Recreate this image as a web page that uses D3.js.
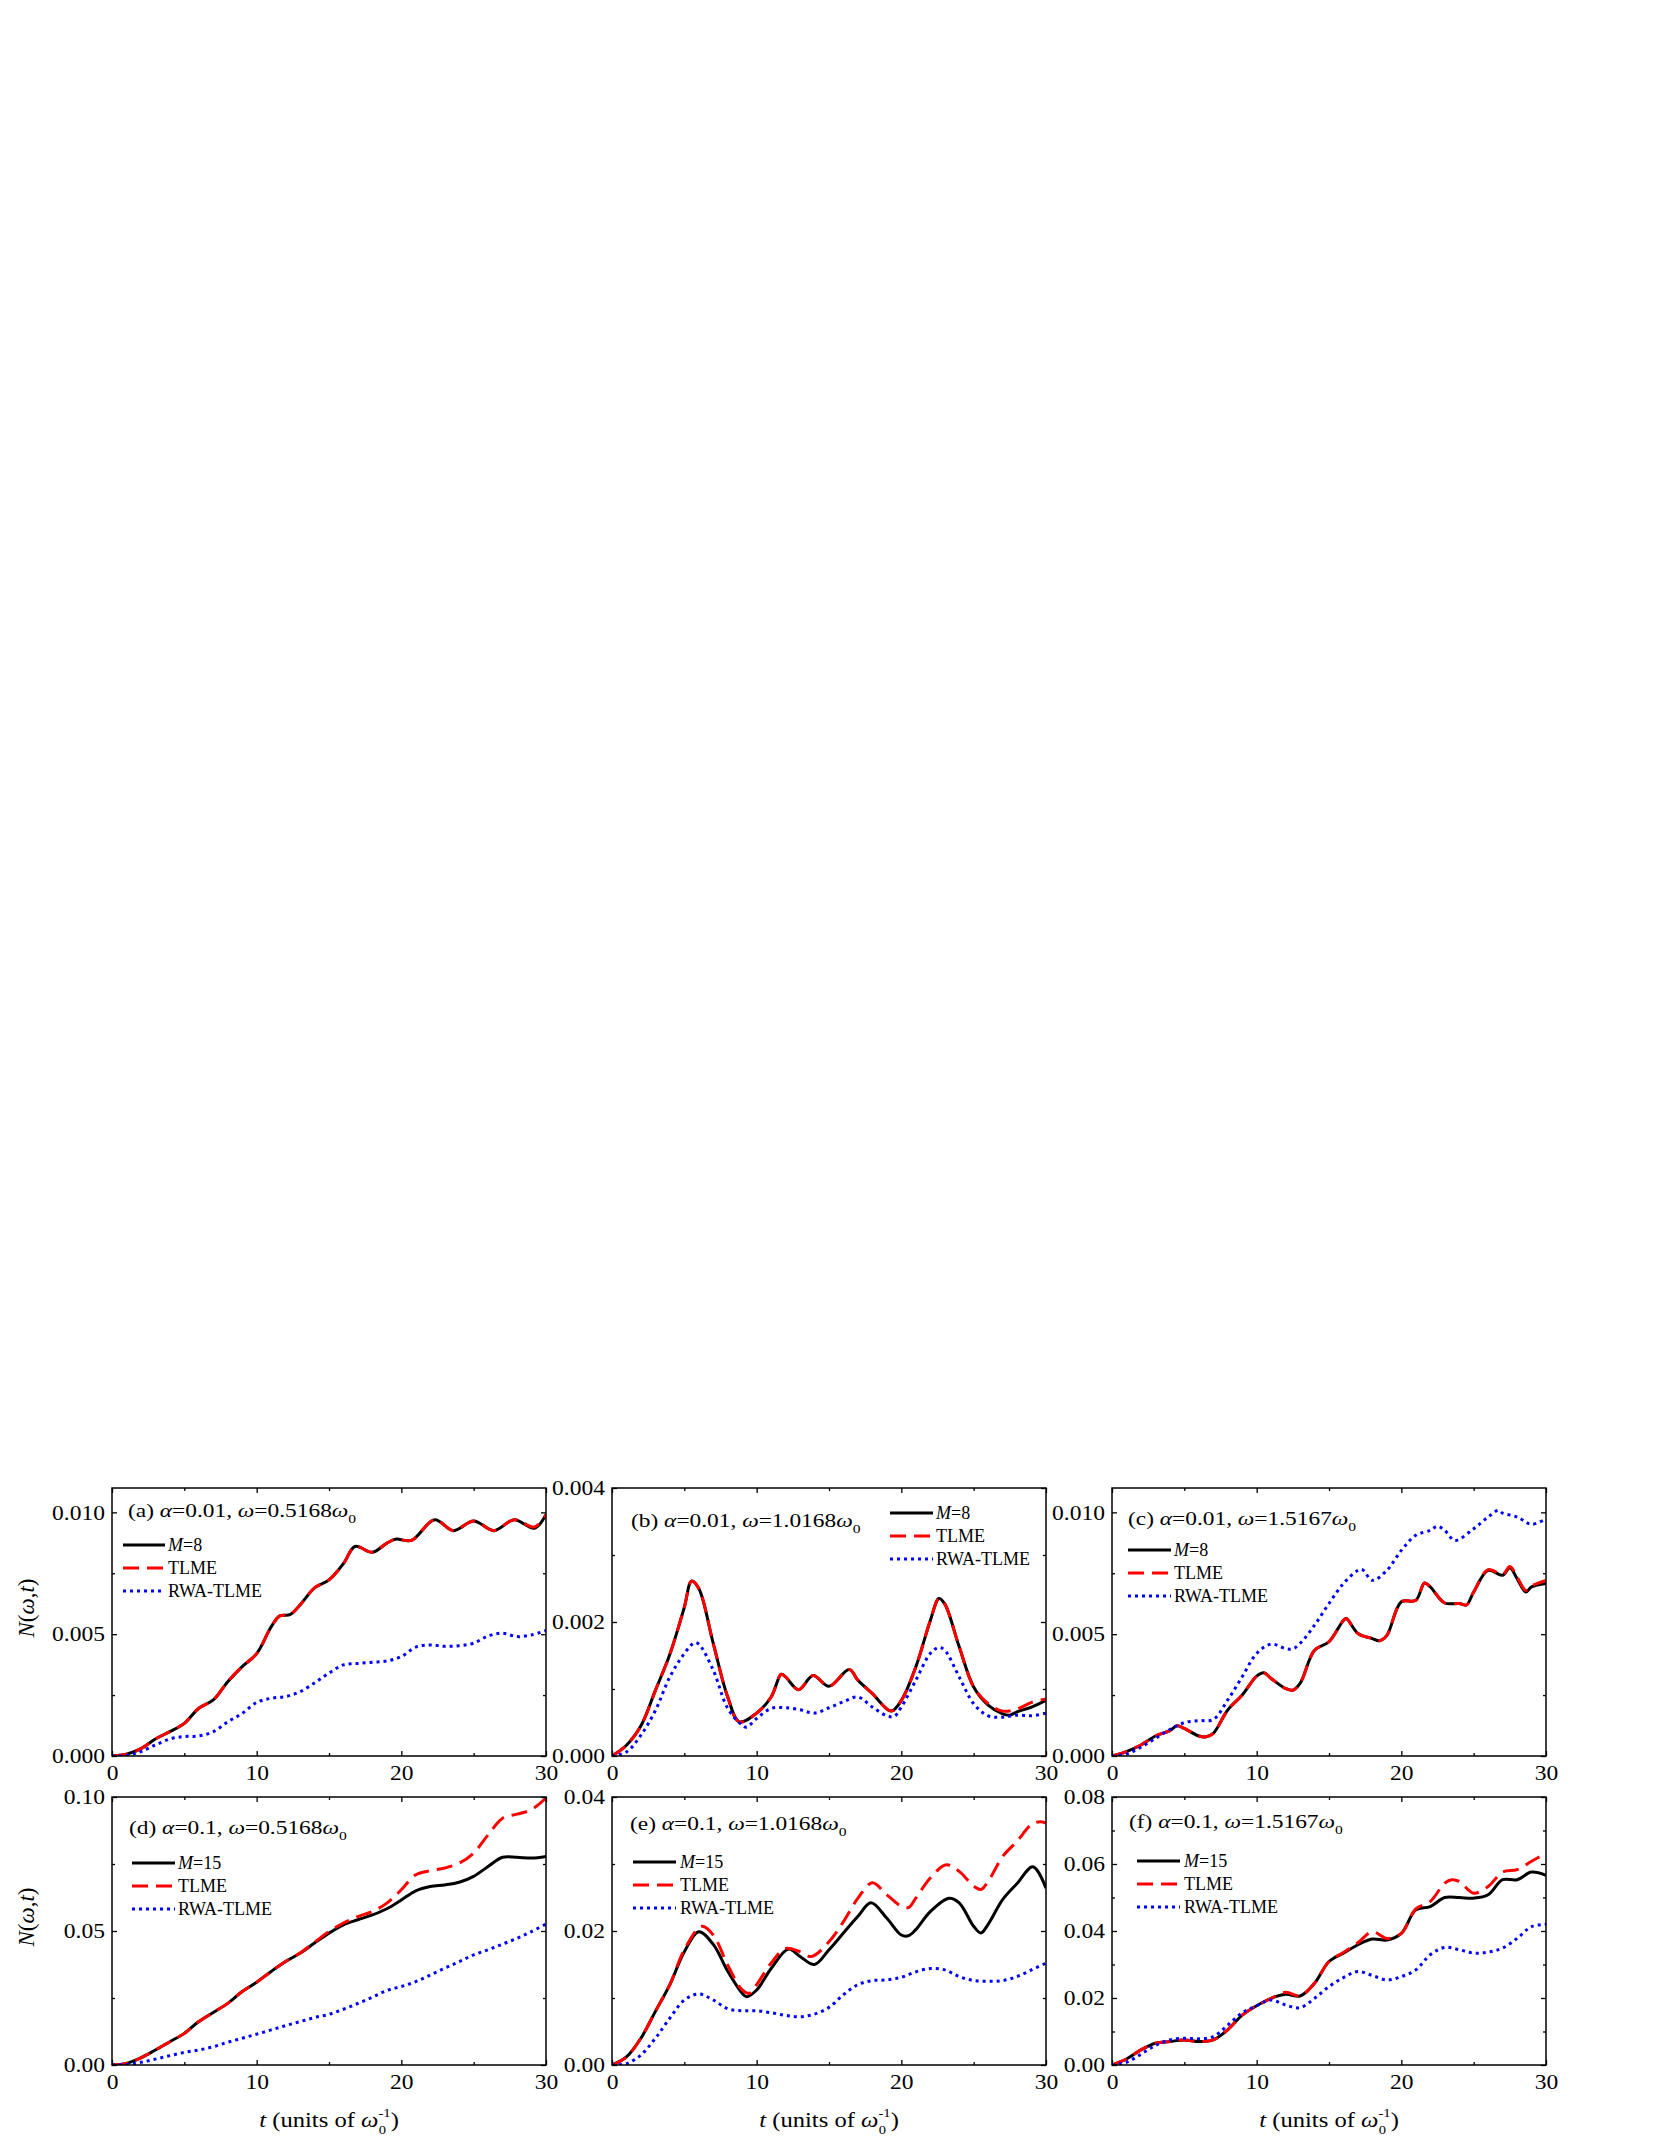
<!DOCTYPE html>
<html><head><meta charset="utf-8">
<script src="https://cdn.jsdelivr.net/npm/d3@7"></script>
<style>
body{margin:0;background:#fff}
svg{display:block}
text{font-family:"Liberation Serif","Times New Roman",serif;fill:#000}
</style>
</head><body>
<svg id="chart" width="1661" height="2149"></svg>
<script>
// ---------------- DATA ----------------
const tMajor = [0, 10, 20, 30];
const tMinor = [5, 15, 25];
const tDomain = [0, 30];

const yTicksA = [0, 0.005, 0.010], yMinorA = [0.0025, 0.0075];
const yTicksB = [0, 0.002, 0.004], yMinorB = [0.001, 0.003];
const yTicksC = [0, 0.005, 0.010], yMinorC = [0.0025, 0.0075];
const yTicksD = [0, 0.05, 0.10], yMinorD = [0.025, 0.075];
const yTicksE = [0, 0.02, 0.04], yMinorE = [0.01, 0.03];
const yTicksF = [0, 0.02, 0.04, 0.06, 0.08], yMinorF = [0.01, 0.03, 0.05, 0.07];
const yMaxes = [0.011, 0.004, 0.011, 0.10, 0.04, 0.08];

const panelLetters = ["(a)", "(b)", "(c)", "(d)", "(e)", "(f)"];
const alphas = ["0.01", "0.01", "0.01", "0.1", "0.1", "0.1"];
const omegas = ["0.5168", "1.0168", "1.5167", "0.5168", "1.0168", "1.5167"];
const legendM = ["8", "8", "8", "15", "15", "15"];
const seriesNames = ["M", "TLME", "RWA-TLME"];

// (a) alpha=0.01, omega=0.5168
const a_M = [[0,0],[1,0.00007],[2,0.0003],[3,0.0007],[4,0.001],[5,0.00134],[6,0.00196],[7,0.0023],[8,0.00305],[9,0.00367],[10,0.0042],[11,0.0053],[11.6,0.00575],[12.3,0.0058],[13,0.0062],[14,0.0069],[15,0.00723],[16,0.0079],[16.8,0.0086],[18,0.00836],[19,0.00874],[19.6,0.0089],[20.7,0.00885],[22.3,0.0097],[23.6,0.00925],[25,0.00965],[26.4,0.00925],[27.8,0.0097],[29.2,0.00935],[30,0.0099]];
const a_TLME = [[0,0],[1,0.00007],[2,0.0003],[3,0.0007],[4,0.001],[5,0.00134],[6,0.00196],[7,0.0023],[8,0.00305],[9,0.00367],[10,0.0042],[11,0.0053],[11.6,0.00575],[12.3,0.0058],[13,0.0062],[14,0.0069],[15,0.00723],[16,0.0079],[16.8,0.0086],[18,0.00836],[19,0.00874],[19.6,0.0089],[20.7,0.00885],[22.3,0.0097],[23.6,0.00925],[25,0.00965],[26.4,0.00925],[27.8,0.0097],[29.2,0.0094],[30,0.0099]];
const a_RWA = [[0,0],[1,0.00002],[2,0.00018],[3,0.00045],[4,0.0007],[5,0.0008],[6,0.00082],[7,0.001],[8,0.0014],[9,0.00175],[10,0.0022],[11,0.00237],[12,0.00244],[13,0.00264],[14,0.003],[15,0.0034],[16,0.00374],[17,0.0038],[18,0.00385],[19,0.0039],[20,0.00408],[21,0.00447],[22,0.00456],[23,0.0045],[24,0.00453],[25,0.00463],[26,0.00493],[27,0.00504],[28,0.0049],[29,0.00497],[30,0.00515]];

// (b) alpha=0.01, omega=1.0168
const b_M = [[0,0],[1,0.00016],[2,0.00045],[3,0.00098],[4,0.00152],[5,0.00222],[5.5,0.00261],[6,0.0025],[7,0.00168],[8,0.00088],[8.8,0.00051],[10,0.00064],[11,0.00088],[11.7,0.00122],[12,0.00118],[12.9,0.00099],[13.9,0.0012],[15,0.00104],[16.4,0.00129],[17,0.00113],[18,0.00093],[19.3,0.00067],[20,0.00083],[21,0.00133],[22,0.00202],[22.6,0.00235],[23,0.00227],[24,0.00163],[25,0.00103],[26,0.00076],[27,0.00063],[27.5,0.00061],[28,0.00066],[29,0.00073],[30,0.00083]];
const b_TLME = [[0,0],[1,0.00016],[2,0.00045],[3,0.00098],[4,0.00152],[5,0.00222],[5.5,0.00261],[6,0.0025],[7,0.00168],[8,0.00088],[8.8,0.00051],[10,0.00064],[11,0.00088],[11.7,0.00122],[12,0.00118],[12.9,0.00099],[13.9,0.0012],[15,0.00104],[16.4,0.00129],[17,0.00113],[18,0.00093],[19.3,0.00067],[20,0.00083],[21,0.00133],[22,0.00202],[22.6,0.00235],[23,0.00227],[24,0.00163],[25,0.00103],[26,0.00078],[27,0.00067],[28,0.0007],[29,0.0008],[30,0.00085]];
const b_RWA = [[0,0],[1,0.00006],[2,0.00031],[3,0.00068],[4,0.00118],[5,0.00153],[5.7,0.00169],[6,0.00167],[7,0.00128],[8,0.00071],[9,0.00046],[9.3,0.00043],[10,0.00056],[11,0.00071],[12,0.00072],[13,0.00069],[14,0.00064],[15,0.00072],[16,0.00081],[17,0.00088],[18,0.00073],[19,0.0006],[19.5,0.00059],[20,0.00073],[21,0.00113],[22,0.00153],[22.6,0.00162],[23,0.00158],[24,0.00118],[25,0.00078],[26,0.0006],[27,0.00058],[28,0.00061],[29,0.0006],[30,0.00064]];

// (c) alpha=0.01, omega=1.5167
const c_M = [[0,0],[1,0.00018],[2,0.00045],[3,0.00082],[4,0.00104],[4.5,0.00124],[5,0.00113],[6,0.00082],[6.5,0.00079],[7,0.00093],[8,0.00189],[9,0.0025],[10,0.00328],[10.5,0.00342],[11,0.00318],[12,0.00277],[12.5,0.0027],[13,0.00298],[14,0.00434],[15,0.00469],[16,0.00557],[16.2,0.00564],[17,0.00503],[18,0.00482],[18.5,0.00473],[19,0.00495],[20,0.00633],[21,0.00639],[21.6,0.0071],[22,0.00694],[23,0.00628],[24,0.00626],[24.5,0.0062],[25,0.00673],[26,0.00762],[27,0.00742],[27.5,0.00773],[28,0.00728],[28.6,0.00673],[29,0.00694],[30,0.00708]];
const c_TLME = [[0,0],[1,0.00018],[2,0.00045],[3,0.00082],[4,0.00104],[4.5,0.00124],[5,0.00113],[6,0.00082],[6.5,0.00079],[7,0.00093],[8,0.00189],[9,0.0025],[10,0.00328],[10.5,0.00342],[11,0.00318],[12,0.00277],[12.5,0.0027],[13,0.00298],[14,0.00434],[15,0.00469],[16,0.00557],[16.2,0.00564],[17,0.00503],[18,0.00482],[18.5,0.00473],[19,0.00495],[20,0.00633],[21,0.00639],[21.6,0.0071],[22,0.00694],[23,0.00628],[24,0.00626],[24.5,0.0062],[25,0.00673],[26,0.00765],[27,0.00745],[27.5,0.00778],[28,0.00735],[28.6,0.0068],[29,0.00698],[30,0.00721]];
const c_RWA = [[0,0],[1,0.00008],[2,0.00036],[3,0.00072],[4,0.00109],[5,0.00137],[6,0.00145],[7,0.0015],[8,0.0023],[9,0.00325],[10,0.00421],[11,0.00459],[12,0.00441],[12.5,0.0044],[13,0.00462],[14,0.00537],[15,0.00626],[16,0.00708],[17,0.00762],[17.3,0.00765],[18,0.00721],[19,0.00762],[20,0.00844],[21,0.00906],[22,0.00926],[22.5,0.00943],[23,0.00926],[23.7,0.00885],[25,0.00933],[26,0.00981],[26.7,0.01008],[27,0.00997],[28,0.00981],[29,0.00951],[30,0.00974]];

// (d) alpha=0.1, omega=0.5168
const d_M = [[0,0],[1,0.0006],[2,0.0027],[3,0.0056],[4,0.0087],[5,0.0118],[6,0.0162],[7,0.0196],[8,0.023],[9,0.0274],[10,0.0309],[11,0.0349],[12,0.0386],[13,0.0417],[14,0.0455],[15,0.0492],[16,0.0523],[17,0.0542],[18,0.056],[19,0.0583],[20,0.0616],[21,0.065],[22,0.0666],[23,0.0672],[24,0.0682],[25,0.0704],[26,0.0741],[27,0.0775],[28,0.0775],[29,0.0772],[30,0.0778]];
const d_TLME = [[0,0],[1,0.0006],[2,0.0027],[3,0.0056],[4,0.0087],[5,0.0118],[6,0.0162],[7,0.0196],[8,0.023],[9,0.0274],[10,0.0309],[11,0.0349],[12,0.0386],[13,0.0418],[14,0.0458],[15,0.0498],[16,0.053],[17,0.0554],[18,0.0573],[19,0.0604],[20,0.0654],[21,0.071],[22,0.0725],[23,0.0735],[24,0.0753],[25,0.0791],[26,0.0859],[27,0.0921],[28,0.0936],[29,0.0953],[30,0.0996]];
const d_RWA = [[0,0],[1,0.0002],[2,0.001],[3,0.0022],[4,0.0035],[5,0.0047],[6,0.0056],[7,0.0068],[8,0.0085],[9,0.01],[10,0.0115],[11,0.0131],[12,0.0147],[13,0.0162],[14,0.0177],[15,0.0189],[16,0.0208],[17,0.023],[18,0.0253],[19,0.0278],[20,0.0293],[21,0.0311],[22,0.0336],[23,0.0361],[24,0.0386],[25,0.0411],[26,0.043],[27,0.0451],[28,0.0473],[29,0.0498],[30,0.0526]];

// (e) alpha=0.1, omega=1.0168
const e_M = [[0,0],[1,0.0012],[2,0.004],[3,0.008],[4,0.012],[5,0.0169],[6,0.0199],[7,0.018],[8,0.014],[9,0.0107],[9.3,0.0102],[10,0.0112],[11,0.0144],[12.2,0.0173],[13,0.0162],[14,0.015],[15,0.0172],[16,0.0197],[17,0.0222],[17.9,0.0242],[19,0.0219],[20,0.0194],[20.5,0.0193],[21,0.0202],[22,0.0229],[23.3,0.0249],[24,0.0242],[25,0.0207],[25.5,0.0197],[26,0.021],[27,0.0247],[28,0.0271],[29.1,0.0296],[30,0.0264]];
const e_TLME = [[0,0],[1,0.0012],[2,0.004],[3,0.008],[4,0.012],[5,0.0172],[6.2,0.0207],[7,0.0194],[8,0.0149],[9,0.0112],[9.5,0.0107],[10,0.012],[11,0.0152],[12,0.0174],[13,0.0169],[13.8,0.0162],[15,0.0184],[16,0.0214],[17,0.0249],[18,0.0272],[19,0.0254],[20,0.0237],[20.5,0.0235],[21,0.0249],[22,0.0279],[23.1,0.0299],[24,0.0289],[25,0.0267],[25.5,0.0262],[26,0.0274],[27,0.0311],[28,0.0334],[29,0.0359],[29.6,0.0363],[30,0.0361]];
const e_RWA = [[0,0],[1,0.0002],[2,0.0015],[3,0.004],[4,0.007],[5,0.0097],[6,0.0106],[7,0.0097],[8,0.0084],[9,0.0081],[10,0.0081],[11,0.0078],[12,0.0074],[13,0.0072],[14,0.0076],[15,0.0086],[16,0.0105],[17,0.012],[18,0.0126],[19,0.0127],[20,0.0131],[21,0.0139],[22,0.0144],[23,0.0142],[24,0.0132],[25,0.0126],[26,0.0125],[27,0.0126],[28,0.0132],[29,0.0142],[30,0.0152]];

// (f) alpha=0.1, omega=1.5167
const f_M = [[0,0],[1,0.0018],[2,0.0045],[3,0.0065],[4,0.007],[5,0.0075],[6,0.007],[7,0.0075],[8,0.0105],[9,0.0149],[10,0.0177],[11,0.0199],[12,0.0211],[13,0.0206],[14,0.0244],[15,0.0309],[16,0.0334],[17,0.0359],[18,0.0376],[19,0.0373],[20,0.0393],[21,0.0463],[22,0.0473],[23,0.05],[24,0.05],[25,0.0498],[26,0.0508],[27,0.0553],[28,0.0553],[29,0.0576],[30,0.0566]];
const f_TLME = [[0,0],[1,0.0018],[2,0.0045],[3,0.0065],[4,0.007],[5,0.0075],[6,0.007],[7,0.0075],[8,0.0105],[9,0.0149],[10,0.0177],[11,0.0199],[12,0.0217],[13,0.0206],[14,0.0244],[15,0.0309],[16,0.0336],[17,0.0365],[18,0.0398],[19,0.0378],[20,0.0393],[21,0.0466],[22,0.0488],[23,0.0543],[23.5,0.0553],[24,0.0548],[25,0.0513],[26,0.0533],[27,0.0576],[28,0.0583],[29,0.0608],[30,0.0632]];
const f_RWA = [[0,0],[1,0.0008],[2,0.0032],[3,0.0058],[4,0.0075],[5,0.008],[6,0.0078],[7,0.0085],[8,0.0119],[9,0.0156],[10,0.0177],[11,0.0194],[12,0.0179],[13,0.0171],[14,0.0199],[15,0.0234],[16,0.0261],[17,0.0279],[18,0.0267],[19,0.0254],[20,0.0264],[21,0.0284],[22,0.0329],[23,0.0351],[24,0.0344],[25,0.0334],[26,0.0337],[27,0.0349],[28,0.0378],[29,0.0413],[30,0.042]];

// ---------------- LAYOUT ----------------
const colX = [112, 612, 1112], rowY = [1488, 1797];
const PW = 434, PH = 268;
const SX = 1.2;   // horizontal stretch of the original's lettering
const SXT = 1.12; // stretch for tick labels / axis title
const panels = [
  {yT: yTicksA, yM: yMinorA, fmt: ".3f", s: [a_M, a_TLME, a_RWA], ann: [16, 29], leg: [11, 53, 56, 57]},
  {yT: yTicksB, yM: yMinorB, fmt: ".3f", s: [b_M, b_TLME, b_RWA], ann: [19, 39], leg: [278, 321, 324, 25]},
  {yT: yTicksC, yM: yMinorC, fmt: ".3f", s: [c_M, c_TLME, c_RWA], ann: [16, 37], leg: [16, 59, 62, 62]},
  {yT: yTicksD, yM: yMinorD, fmt: ".2f", s: [d_M, d_TLME, d_RWA], ann: [17, 37], leg: [20, 63, 66, 66]},
  {yT: yTicksE, yM: yMinorE, fmt: ".2f", s: [e_M, e_TLME, e_RWA], ann: [18, 33], leg: [21, 64, 68, 65]},
  {yT: yTicksF, yM: yMinorF, fmt: ".2f", s: [f_M, f_TLME, f_RWA], ann: [17, 31], leg: [25, 68, 72, 64]}
];
const styles = [
  {stroke: "#000000", width: 3, dash: null},
  {stroke: "#ff0000", width: 3, dash: "16,8"},
  {stroke: "#0000ff", width: 3, dash: "3,4"}
];

const svg = d3.select("#chart");

function stretchText(sel, s) {
  sel.each(function () {
    const t = d3.select(this);
    const x = +t.attr("x") || 0, y = +t.attr("y") || 0;
    t.attr("x", 0).attr("y", 0).attr("transform", `translate(${x},${y}) scale(${s},1)`);
  });
}

panels.forEach((p, i) => {
  const col = i % 3, row = Math.floor(i / 3);
  const g = svg.append("g").attr("transform", `translate(${colX[col]},${rowY[row]})`);
  const x = d3.scaleLinear().domain(tDomain).range([0, PW]);
  const y = d3.scaleLinear().domain([0, yMaxes[i]]).range([PH, 0]);

  // curves
  const line = d3.line().x(d => x(d[0])).y(d => y(d[1])).curve(d3.curveCatmullRom.alpha(0.5));
  const clipId = "clip" + i;
  g.append("clipPath").attr("id", clipId).append("rect").attr("width", PW).attr("height", PH);
  const cg = g.append("g").attr("clip-path", `url(#${clipId})`);
  p.s.forEach((data, k) => {
    const st = styles[k];
    const path = cg.append("path").datum(data).attr("d", line)
      .attr("fill", "none").attr("stroke", st.stroke).attr("stroke-width", st.width)
      .attr("stroke-linejoin", "round");
    if (st.dash) path.attr("stroke-dasharray", st.dash);
  });

  // axes
  const tickStyle = sel => {
    sel.select(".domain").remove();
    sel.selectAll(".tick line").attr("stroke", "#000").attr("stroke-width", 1.3);
    sel.selectAll("text").attr("font-size", 21).attr("font-family", "Liberation Serif, Times New Roman, serif").attr("fill", "#000");
    stretchText(sel.selectAll("text"), SXT);
  };
  g.append("g").attr("transform", `translate(0,${PH})`)
    .call(d3.axisBottom(x).tickValues(tMajor).tickSize(-5).tickPadding(9).tickFormat(d3.format("d"))).call(tickStyle);
  g.append("g").attr("transform", `translate(0,${PH})`)
    .call(d3.axisBottom(x).tickValues(tMinor).tickSize(-3).tickFormat("")).call(tickStyle);
  g.append("g").call(d3.axisTop(x).tickValues(tMajor).tickSize(-5).tickFormat("")).call(tickStyle);
  g.append("g").call(d3.axisTop(x).tickValues(tMinor).tickSize(-3).tickFormat("")).call(tickStyle);
  g.append("g").call(d3.axisLeft(y).tickValues(p.yT).tickSize(-5).tickPadding(7).tickFormat(d3.format(p.fmt))).call(tickStyle);
  g.append("g").call(d3.axisLeft(y).tickValues(p.yM).tickSize(-3).tickFormat("")).call(tickStyle);
  g.append("g").attr("transform", `translate(${PW},0)`).call(d3.axisRight(y).tickValues(p.yT).tickSize(-5).tickFormat("")).call(tickStyle);
  g.append("g").attr("transform", `translate(${PW},0)`).call(d3.axisRight(y).tickValues(p.yM).tickSize(-3).tickFormat("")).call(tickStyle);

  g.append("rect").attr("width", PW).attr("height", PH).attr("fill", "none")
    .attr("stroke", "#000").attr("stroke-width", 1.5);

  // annotation
  const at = g.append("text").attr("transform", `translate(${p.ann[0]},${p.ann[1]}) scale(${SX},1)`).attr("font-size", 19.5);
  at.append("tspan").text(panelLetters[i] + " ");
  at.append("tspan").attr("font-style", "italic").text("\u03B1");
  at.append("tspan").text("=" + alphas[i] + ", ");
  at.append("tspan").attr("font-style", "italic").text("\u03C9");
  at.append("tspan").text("=" + omegas[i]);
  at.append("tspan").attr("font-style", "italic").text("\u03C9");
  at.append("tspan").attr("font-size", 13).attr("dy", 6).text("0");

  // legend
  const [lx1, lx2, tx, ly] = p.leg;
  seriesNames.forEach((nm, k) => {
    const yy = ly + k * 23;
    const st = styles[k];
    const ln = g.append("line").attr("x1", lx1).attr("x2", lx2).attr("y1", yy).attr("y2", yy)
      .attr("stroke", st.stroke).attr("stroke-width", st.width);
    if (st.dash) ln.attr("stroke-dasharray", st.dash);
    const t = g.append("text").attr("x", tx).attr("y", yy).attr("dy", "0.35em").attr("font-size", 18);
    if (k === 0) {
      t.append("tspan").attr("font-style", "italic").text(nm);
      t.append("tspan").text("=" + legendM[i]);
    } else {
      t.text(nm);
    }
  });

  // x title (bottom row)
  if (row === 1) {
    const xt = g.append("text").attr("transform", `translate(${PW / 2},${2127 - rowY[row]}) scale(${SXT},1)`)
      .attr("text-anchor", "middle").attr("font-size", 22);
    xt.append("tspan").attr("font-style", "italic").text("t");
    xt.append("tspan").text(" (units of ");
    xt.append("tspan").attr("font-style", "italic").text("\u03C9");
    xt.append("tspan").attr("font-size", 13).attr("dy", -10).text("-1");
    xt.append("tspan").attr("font-size", 13).attr("dx", -10.5).attr("dy", 17).text("0");
    xt.append("tspan").attr("dx", 4).attr("dy", -7).text(")");
  }

  // y title
  if (col === 0) {
    const cy = row === 0 ? 1608 : 1917;
    const yt = svg.append("text").attr("transform", `translate(34,${cy}) rotate(-90)`)
      .attr("text-anchor", "middle").attr("font-size", 23);
    yt.append("tspan").attr("font-style", "italic").text("N");
    yt.append("tspan").text("(");
    yt.append("tspan").attr("font-style", "italic").text("\u03C9");
    yt.append("tspan").text(",");
    yt.append("tspan").attr("font-style", "italic").text("t");
    yt.append("tspan").text(")");
  }
});
</script>
</body></html>
